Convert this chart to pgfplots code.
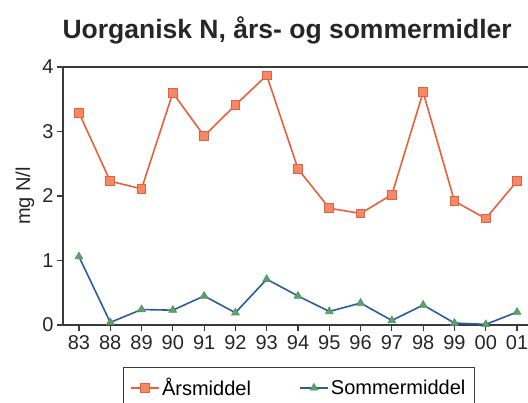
\documentclass[border=0pt]{standalone}
\usepackage{pgfplots}
\pgfplotsset{compat=1.18}
\usepackage{fontspec}
\setmainfont{Liberation Sans}
\definecolor{orline}{HTML}{E8603A}
\definecolor{orfill}{HTML}{F4896A}
\definecolor{blline}{HTML}{2A5CA0}
\definecolor{grfill}{HTML}{5DA55D}
\definecolor{axcol}{HTML}{3A3A3A}
\begin{document}
\begin{tikzpicture}
\begin{axis}[
  at={(0,0)}, anchor=south west,
  scale only axis,
  width=465bp, height=258bp,
  xmin=-0.51, xmax=14.35,
  ymin=0, ymax=4,
  axis x line=box, axis y line=left,
  axis line style={-, axcol, line width=1.4bp},
  x axis line style={-}, y axis line style={-},
  xtick pos=bottom, ytick pos=left,
  tick align=outside,
  major tick length=6bp,
  tick style={axcol, line width=1.2bp},
  xtick={0,...,14},
  xticklabels={83,88,89,90,91,92,93,94,95,96,97,98,99,00,01},
  ytick={0,1,2,3,4},
  ticklabel style={font=\fontsize{20bp}{24bp}\selectfont, text=black!85},
  /pgf/number format/assume math mode=true,
  xticklabel style={yshift=-1bp},
  ylabel={mg N/l},
  ylabel style={font=\fontsize{20bp}{24bp}\selectfont, text=black!85, at={(rel axis cs:0,0.5)}, anchor=center, yshift=38bp},
  title={\textbf{Uorganisk N, års- og sommermidler}},
  title style={font=\fontsize{26.5bp}{30bp}\selectfont, text=black!85, at={(rel axis cs:0.482,1)}, anchor=south, yshift=13bp},
  legend columns=2,
  legend style={at={(rel axis cs:0.507,-0.162)}, anchor=north,
    draw=axcol, line width=1.2bp, font=\fontsize{20bp}{24bp}\selectfont,
    inner xsep=7bp, inner ysep=9bp,
    /tikz/every even column/.append style={column sep=46bp}},
  legend image code/.code={
    \draw[mark repeat=2,mark phase=2] plot coordinates {(0cm,0cm) (0.5cm,0cm) (1cm,0cm)};},
]
\addplot[orline, line width=1.6bp, mark=square*, mark size=4.3bp,
  mark options={fill=orfill, draw=orline, line width=1bp}]
  coordinates {(0,3.29) (1,2.23) (2,2.11) (3,3.60) (4,2.93) (5,3.41) (6,3.87)
  (7,2.42) (8,1.81) (9,1.73) (10,2.02) (11,3.61) (12,1.92) (13,1.65) (14,2.23)};
\addlegendentry{Årsmiddel}
\addplot[blline, line width=1.6bp, mark=triangle*, mark size=4.5bp,
  mark options={fill=grfill, draw=grfill!70!blline, line width=0.6bp}]
  coordinates {(0,1.06) (1,0.04) (2,0.24) (3,0.23) (4,0.45) (5,0.19) (6,0.71)
  (7,0.45) (8,0.21) (9,0.34) (10,0.07) (11,0.31) (12,0.03) (13,0.01) (14,0.20)};
\addlegendentry{Sommermiddel}
\end{axis}
\pgfresetboundingbox
\useasboundingbox (-63bp,-78bp) rectangle (465bp,325bp);
\end{tikzpicture}
\end{document}
